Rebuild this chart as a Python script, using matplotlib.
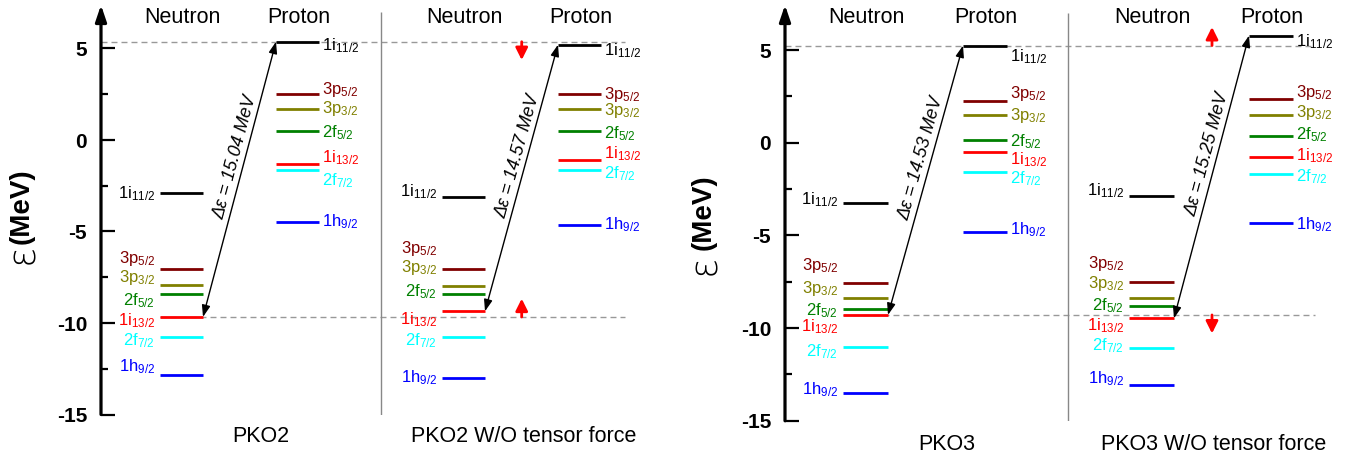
import numpy as np
import matplotlib
matplotlib.use('Agg')
import matplotlib.pyplot as plt
from matplotlib.ticker import MultipleLocator, FixedLocator

plt.rcParams['font.family'] = ['Liberation Sans', 'DejaVu Sans']
plt.rcParams['mathtext.fontset'] = 'custom'
plt.rcParams['mathtext.rm'] = 'Liberation Sans'
plt.rcParams['mathtext.it'] = 'Liberation Sans:italic'
plt.rcParams['mathtext.bf'] = 'Liberation Sans:bold'
plt.rcParams['axes.unicode_minus'] = False

# ---------------- data ----------------
orbital_names = ['1i', '3p', '3p', '2f', '1i', '2f', '1h']
orbital_j = ['11/2', '5/2', '3/2', '5/2', '13/2', '7/2', '9/2']
level_colors = ['black', '#800000', '#808000', '#008000', '#ff0000', '#00ffff', '#0000ff']

model_names = ['PKO2', 'PKO2 W/O tensor force', 'PKO3', 'PKO3 W/O tensor force']

pko2_neutron = [-2.88, -7.05, -7.94, -8.40, -9.67, -10.77, -12.84]
pko2_proton = [5.37, 2.53, 1.69, 0.51, -1.33, -1.64, -4.46]
pko2wo_neutron = [-3.13, -7.07, -7.98, -8.43, -9.36, -10.75, -13.00]
pko2wo_proton = [5.21, 2.50, 1.71, 0.47, -1.09, -1.64, -4.64]
pko3_neutron = [-3.24, -7.55, -8.36, -8.99, -9.29, -11.00, -13.48]
pko3_proton = [5.24, 2.23, 1.49, 0.15, -0.49, -1.60, -4.80]
pko3wo_neutron = [-2.87, -7.50, -8.38, -8.79, -9.47, -11.07, -13.07]
pko3wo_proton = [5.78, 2.34, 1.51, 0.38, -0.77, -1.67, -4.33]

gap_values = [15.04, 14.57, 14.53, 15.25]

y_ticks = [5, 0, -5, -10, -15]

# ---------------- layout (label baselines, in MeV) ----------------
pko2_neutron_lab = [-3.19, -6.74, -7.74, -9.02, -10.11, -11.20, -12.66]
pko2_proton_lab = [4.92, 2.51, 1.48, 0.16, -1.20, -2.46, -4.70]
pko2wo_neutron_lab = [-3.10, -6.16, -7.19, -8.56, -10.07, -11.20, -13.26]
pko2wo_proton_lab = [4.64, 2.24, 1.34, 0.09, -1.00, -2.10, -4.86]
pko3_neutron_lab = [-3.31, -6.87, -8.12, -9.29, -10.19, -11.54, -13.57]
pko3_proton_lab = [4.37, 2.39, 1.22, -0.22, -1.15, -2.19, -4.93]
pko3wo_neutron_lab = [-2.82, -6.77, -7.85, -9.02, -10.10, -11.22, -12.98]
pko3wo_proton_lab = [5.18, 2.48, 1.40, 0.18, -0.93, -2.10, -4.65]

W, H = 1361, 461
fig = plt.figure(figsize=(W / 100, H / 100), dpi=100)


def make_axes(spine_px, width_px, y0_px, scale):
    top_px = 5
    ymax = (y0_px - top_px) / scale
    bot_px = y0_px + 15 * scale
    ax = fig.add_axes([spine_px / W, (H - bot_px) / H, width_px / W, (bot_px - top_px) / H])
    ax.set_xlim(0, width_px)
    ax.set_ylim(-15, ymax)
    for s in ax.spines.values():
        s.set_visible(False)
    ax.set_xticks([])
    ax.yaxis.set_major_locator(FixedLocator(y_ticks))
    ax.yaxis.set_minor_locator(MultipleLocator(2.5))
    ax.tick_params(axis='y', which='major', direction='in', length=10, width=1.6,
                   pad=10, labelsize=15)
    ax.tick_params(axis='y', which='minor', direction='in', length=5, width=1.6)
    for lab in ax.get_yticklabels():
        lab.set_fontweight('bold')
    ax.annotate('', xy=(0, ymax), xytext=(0, -15),
                arrowprops=dict(arrowstyle='-|>,head_length=0.65,head_width=0.22',
                                lw=2.3, color='black', mutation_scale=15,
                                shrinkA=0, shrinkB=0),
                annotation_clip=False)
    return ax, ymax


def lab(name, j):
    return name + r'$_{\mathrm{' + j + r'}}$'


def draw_model(ax, xo, nvals, pvals, nlab, plab, gap, nx, px, title_y):
    for i in range(len(nvals)):
        ax.hlines(nvals[i], nx[0] + xo, nx[1] + xo, color=level_colors[i], lw=2)
        ax.text(nx[0] + xo - 5, nlab[i], lab(orbital_names[i], orbital_j[i]),
                color=level_colors[i], fontsize=12, ha='right', va='baseline')
        ax.hlines(pvals[i], px[0] + xo, px[1] + xo, color=level_colors[i], lw=2)
        ax.text(px[1] + xo + 3, plab[i], lab(orbital_names[i], orbital_j[i]),
                color=level_colors[i], fontsize=12, ha='left', va='baseline')
    # gap arrow from neutron 1i13/2 to proton 1i11/2
    p0 = (nx[1] + xo, nvals[4])
    p1 = (px[0] + xo, pvals[0])
    ax.annotate('', xy=p1, xytext=p0,
                arrowprops=dict(arrowstyle='<|-|>,head_length=0.5,head_width=0.18',
                                lw=1, color='black', mutation_scale=14,
                                shrinkA=0, shrinkB=0))
    d0 = ax.transData.transform(p0)
    d1 = ax.transData.transform(p1)
    ang = np.degrees(np.arctan2(d1[1] - d0[1], d1[0] - d0[0]))
    t = 0.57
    mid = (p0[0] + t * (p1[0] - p0[0]), p0[1] + t * (p1[1] - p0[1]))
    perp = np.radians(ang + 90)
    off = 5 * 0.72
    ax.annotate('\u0394\u03b5 = %.2f MeV' % gap, xy=mid,
                xytext=(off * np.cos(perp), off * np.sin(perp)),
                textcoords='offset points', rotation=ang, rotation_mode='anchor',
                ha='center', va='baseline', fontsize=13, style='italic')
    ax.text(xo + (nx[0] + nx[1]) / 2 + 1, title_y, 'Neutron', fontsize=15.5, ha='center', va='center')
    ax.text(xo + (px[0] + px[1]) / 2 + 1, title_y, 'Proton', fontsize=15.5, ha='center', va='center')


def ref_lines(ax, top_val, bot_val, x_end, bot_start):
    ax.hlines(top_val, 0, x_end, colors='#999999', linestyles=(0, (4.3, 2.9)), lw=1, zorder=0)
    ax.hlines(bot_val, bot_start, x_end, colors='#999999', linestyles=(0, (4.3, 2.9)), lw=1, zorder=0)


def shift_arrow(ax, x, y_from, y_to):
    ax.annotate('', xy=(x, y_to), xytext=(x, y_from),
                arrowprops=dict(arrowstyle='-|>,head_length=0.6,head_width=0.3',
                                lw=2, color='#ff0000', mutation_scale=12,
                                shrinkA=0, shrinkB=0))


# ---------------- left panel ----------------
axL, ymaxL = make_axes(101, 540, 140, 18.3)
offL = [0, 282]
nxL, pxL = (59, 102), (175, 218)
ref_lines(axL, pko2_proton[0], pko2_neutron[4], 524, 59)
draw_model(axL, offL[0], pko2_neutron, pko2_proton, pko2_neutron_lab, pko2_proton_lab,
           gap_values[0], nxL, pxL, 6.72)
draw_model(axL, offL[1], pko2wo_neutron, pko2wo_proton, pko2wo_neutron_lab, pko2wo_proton_lab,
           gap_values[1], nxL, pxL, 6.72)
axL.vlines(280, -15, 7.0, colors='#888888', lw=1)
shift_arrow(axL, 420.7, pko2_proton[0], pko2_proton[0] - 1.0)
shift_arrow(axL, 420.7, pko2_neutron[4], pko2_neutron[4] + 1.0)
axL.text(160, -16.2, model_names[0], fontsize=15.5, ha='center', va='center', clip_on=False)
axL.text(423, -16.2, model_names[1], fontsize=15.5, ha='center', va='center', clip_on=False)

# ---------------- right panel ----------------
axR, ymaxR = make_axes(785, 570, 142.7, 18.54)
offR = [0, 286]
nxR, pxR = (58, 103), (178, 222)
ref_lines(axR, pko3_proton[0], pko3_neutron[4], 530, 58)
draw_model(axR, offR[0], pko3_neutron, pko3_proton, pko3_neutron_lab, pko3_proton_lab,
           gap_values[2], nxR, pxR, 6.73)
draw_model(axR, offR[1], pko3wo_neutron, pko3wo_proton, pko3wo_neutron_lab, pko3wo_proton_lab,
           gap_values[3], nxR, pxR, 6.73)
axR.vlines(283, -15, 7.0, colors='#888888', lw=1)
shift_arrow(axR, 427, pko3_proton[0], pko3_proton[0] + 1.0)
shift_arrow(axR, 427, pko3_neutron[4], pko3_neutron[4] - 1.0)
axR.text(162, -16.3, model_names[2], fontsize=15.5, ha='center', va='center', clip_on=False)
axR.text(429, -16.3, model_names[3], fontsize=15.5, ha='center', va='center', clip_on=False)

# ---------------- y labels ----------------
for xc, y_meV, y_eps in [(22, 206, 254), (704, 212, 265)]:
    fig.text(xc / W, 1 - y_meV / H, '(MeV)', rotation=90, fontsize=20, fontweight='bold',
             ha='center', va='center')
    fig.text((xc + 1) / W, 1 - y_eps / H, '\u03b5', rotation=90, fontsize=27,
             fontweight='light', family='DejaVu Sans', ha='center', va='center')

fig.savefig('out.png', dpi=100)
